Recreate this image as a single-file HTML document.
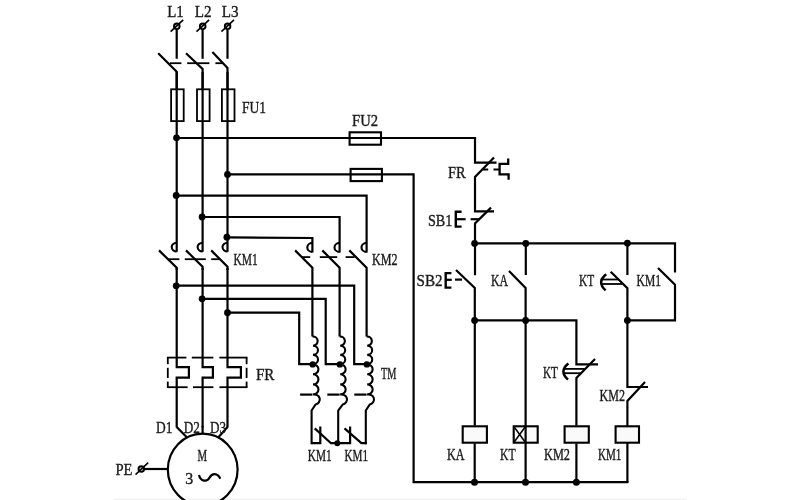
<!DOCTYPE html>
<html><head><meta charset="utf-8"><title>circuit</title>
<style>
html,body{margin:0;padding:0;background:#fff;}
body{width:800px;height:500px;overflow:hidden;position:relative;}
svg{position:absolute;left:0;top:0;display:block;filter:blur(0.45px);}
.band{position:absolute;left:114px;top:497.5px;width:573px;height:2.5px;background:linear-gradient(#fbfbfb,#f0f0f0);}
text{font-family:"Liberation Serif",serif;fill:#1c1c1c;stroke:#1c1c1c;stroke-width:0.4;}
</style></head><body>
<div class="band"></div>
<svg width="800" height="500" viewBox="0 0 800 500" fill="none" stroke="#000" stroke-linecap="butt" stroke-linejoin="miter">
<g>
<circle cx="176.79999999999998" cy="26.3" r="2.8" stroke-width="1.9" fill="#ddd"/>
<line x1="170.6" y1="31.6" x2="183.2" y2="19.8" stroke-width="1.6" />
<line x1="176.7" y1="29.3" x2="176.7" y2="58.8" stroke-width="2.2" />
<rect x="171.1" y="89.3" width="12.6" height="31.8" stroke-width="1.8" fill="none"/>
<circle cx="202.7" cy="26.3" r="2.8" stroke-width="1.9" fill="#ddd"/>
<line x1="196.5" y1="31.6" x2="209.1" y2="19.8" stroke-width="1.6" />
<line x1="202.6" y1="29.3" x2="202.6" y2="58.8" stroke-width="2.2" />
<rect x="197.0" y="89.3" width="12.6" height="31.8" stroke-width="1.8" fill="none"/>
<circle cx="227.6" cy="26.3" r="2.8" stroke-width="1.9" fill="#ddd"/>
<line x1="221.4" y1="31.6" x2="234.0" y2="19.8" stroke-width="1.6" />
<line x1="227.5" y1="29.3" x2="227.5" y2="58.8" stroke-width="2.2" />
<rect x="221.9" y="89.3" width="12.6" height="31.8" stroke-width="1.8" fill="none"/>
<polyline points="158.2,53.2 176.7,71.8 176.7,89" stroke-width="2.2" />
<polyline points="186,53.2 202.6,69 202.6,89" stroke-width="2.2" />
<polyline points="212.4,52 227.5,68 227.5,89" stroke-width="2.2" />
<line x1="169.8" y1="63.2" x2="181.4" y2="63.2" stroke-width="1.8" />
<line x1="187.2" y1="63.2" x2="209.4" y2="63.2" stroke-width="1.8" />
<line x1="215.4" y1="63.2" x2="222" y2="63.2" stroke-width="1.8" />
<line x1="176.7" y1="72" x2="176.7" y2="251.8" stroke-width="2.2" />
<line x1="202.6" y1="72" x2="202.6" y2="251.8" stroke-width="2.2" />
<line x1="227.5" y1="72" x2="227.5" y2="251.8" stroke-width="2.2" />
<polyline points="176.7,138 349,138" stroke-width="2.2" />
<rect x="349.6" y="132.3" width="31.4" height="12.4" stroke-width="2.1" fill="none"/>
<line x1="349" y1="138" x2="476.1" y2="138" stroke-width="2.2" />
<polyline points="475,138 475,162.7 496.5,162.7" stroke-width="2.2" />
<polyline points="227.5,174.4 413.6,174.4 413.6,482.2 628.5,482.2" stroke-width="2.2" />
<rect x="350.6" y="168.9" width="31.3" height="12.2" stroke-width="2.1" fill="none"/>
<circle cx="176.5" cy="137.8" r="3.4" fill="#000" stroke="none"/>
<circle cx="227.5" cy="174.4" r="3.4" fill="#000" stroke="none"/>
<circle cx="176.2" cy="195.4" r="3.4" fill="#000" stroke="none"/>
<circle cx="202.1" cy="217" r="3.4" fill="#000" stroke="none"/>
<circle cx="226.9" cy="237.2" r="3.4" fill="#000" stroke="none"/>
<polyline points="176.7,195.6 366.6,195.6 366.6,252.5" stroke-width="2.2" />
<polyline points="202.6,217 339.6,217 339.6,252.5" stroke-width="2.2" />
<polyline points="227.5,237.4 312.4,238 312.4,252.5" stroke-width="2.2" />
<path d="M176.7,242.7 A5,4.4 0 0 0 176.7,251.5" stroke-width="2.1" />
<line x1="176.7" y1="268" x2="176.7" y2="358" stroke-width="2.2" />
<path d="M202.6,242.7 A5,4.4 0 0 0 202.6,251.5" stroke-width="2.1" />
<line x1="202.6" y1="268" x2="202.6" y2="358" stroke-width="2.2" />
<path d="M227.5,242.7 A5,4.4 0 0 0 227.5,251.5" stroke-width="2.1" />
<line x1="227.5" y1="268" x2="227.5" y2="358" stroke-width="2.2" />
<polyline points="159,250.4 176.7,267.8 176.7,270" stroke-width="2.2" />
<polyline points="186,250.4 202.6,266.8 202.6,270" stroke-width="2.2" />
<polyline points="211.2,250.4 227.5,266.8 227.5,270" stroke-width="2.2" />
<line x1="168.6" y1="259.2" x2="179.4" y2="259.2" stroke-width="1.8" />
<line x1="184.8" y1="259.2" x2="205.8" y2="259.2" stroke-width="1.8" />
<line x1="211.2" y1="259.2" x2="219.6" y2="259.2" stroke-width="1.8" />
<path d="M312.4,242.9 A5,4.4 0 0 0 312.4,251.9" stroke-width="2.1" />
<polyline points="295.09999999999997,250.4 312.4,267.8 312.4,336.5" stroke-width="2.2" />
<path d="M339.6,242.9 A5,4.4 0 0 0 339.6,251.9" stroke-width="2.1" />
<polyline points="322.3,250.4 339.6,267.8 339.6,336.5" stroke-width="2.2" />
<path d="M366.6,242.9 A5,4.4 0 0 0 366.6,251.9" stroke-width="2.1" />
<polyline points="349.3,250.4 366.6,267.8 366.6,336.5" stroke-width="2.2" />
<line x1="301.8" y1="257.1" x2="310.2" y2="257.1" stroke-width="1.8" />
<line x1="319.8" y1="257.1" x2="337.2" y2="257.1" stroke-width="1.8" />
<line x1="345.6" y1="257.1" x2="354.6" y2="257.1" stroke-width="1.8" />
<circle cx="176.2" cy="285.8" r="3.4" fill="#000" stroke="none"/>
<circle cx="202.1" cy="298.8" r="3.4" fill="#000" stroke="none"/>
<circle cx="227.5" cy="312.7" r="3.4" fill="#000" stroke="none"/>
<polyline points="176.7,285.7 354.2,285.7 354.2,364.2 366.6,364.2" stroke-width="2.2" />
<polyline points="202.6,298.8 325.7,298.8 325.7,364.2 339.6,364.2" stroke-width="2.2" />
<polyline points="227.5,312.6 299.2,312.6 299.2,364.2 312.4,364.2" stroke-width="2.2" />
<path d="M312.4,336.5 A4.967999999999994,4.599999999999994 0 0 1 313.0,345.7 A4.967999999999994,4.599999999999994 0 0 1 313.0,354.9 A5.0220000000000065,4.650000000000006 0 0 1 313.0,364.2 A5.454000000000013,5.050000000000011 0 0 1 313.0,374.3 A5.453999999999982,5.049999999999983 0 0 1 313.0,384.4 A5.454000000000013,5.050000000000011 0 0 1 313.0,394.5 A5.345999999999988,4.949999999999989 0 0 1 315.59999999999997,404.4 L311.6,410.5 L311.6,444.3" stroke-width="2.1" />
<circle cx="312.7" cy="364.4" r="3.2" fill="#000" stroke="none"/>
<line x1="300.09999999999997" y1="394.6" x2="312.4" y2="394.6" stroke-width="2.2" />
<path d="M339.6,336.5 A4.967999999999994,4.599999999999994 0 0 1 340.20000000000005,345.7 A4.967999999999994,4.599999999999994 0 0 1 340.20000000000005,354.9 A5.0220000000000065,4.650000000000006 0 0 1 340.20000000000005,364.2 A5.454000000000013,5.050000000000011 0 0 1 340.20000000000005,374.3 A5.453999999999982,5.049999999999983 0 0 1 340.20000000000005,384.4 A5.454000000000013,5.050000000000011 0 0 1 340.20000000000005,394.5 A5.345999999999988,4.949999999999989 0 0 1 342.8,404.4 L338.2,410.5 L338.2,444.3" stroke-width="2.1" />
<circle cx="339.90000000000003" cy="364.4" r="3.2" fill="#000" stroke="none"/>
<line x1="327.3" y1="394.6" x2="339.6" y2="394.6" stroke-width="2.2" />
<path d="M366.6,336.5 A4.967999999999994,4.599999999999994 0 0 1 367.20000000000005,345.7 A4.967999999999994,4.599999999999994 0 0 1 367.20000000000005,354.9 A5.0220000000000065,4.650000000000006 0 0 1 367.20000000000005,364.2 A5.454000000000013,5.050000000000011 0 0 1 367.20000000000005,374.3 A5.453999999999982,5.049999999999983 0 0 1 367.20000000000005,384.4 A5.454000000000013,5.050000000000011 0 0 1 367.20000000000005,394.5 A5.345999999999988,4.949999999999989 0 0 1 369.8,404.4 L365.8,410.5 L365.8,444.3" stroke-width="2.1" />
<circle cx="366.90000000000003" cy="364.4" r="3.2" fill="#000" stroke="none"/>
<line x1="354.3" y1="394.6" x2="366.6" y2="394.6" stroke-width="2.2" />
<polyline points="311.6,443.2 320.3,443.2 320.3,426.6" stroke-width="2.2" />
<polyline points="314.7,428.4 331,443.2 337.2,443.2" stroke-width="2.2" />
<polyline points="337.2,443.2 350.1,443.2 350.1,426.6" stroke-width="2.2" />
<polyline points="344.5,428.4 361.4,443.2 366.8,443.2" stroke-width="2.2" />
<circle cx="337.3" cy="443.2" r="3.0" fill="#000" stroke="none"/>
<line x1="166.9" y1="357.6" x2="186.4" y2="357.6" stroke-width="1.8" />
<line x1="191.8" y1="357.6" x2="213.4" y2="357.6" stroke-width="1.8" />
<line x1="219.4" y1="357.6" x2="247.5" y2="357.6" stroke-width="1.8" />
<line x1="166.9" y1="387.2" x2="187.6" y2="387.2" stroke-width="1.8" />
<line x1="193" y1="387.2" x2="213.4" y2="387.2" stroke-width="1.8" />
<line x1="219.4" y1="387.2" x2="247.5" y2="387.2" stroke-width="1.8" />
<line x1="167.8" y1="357.6" x2="167.8" y2="364.2" stroke-width="1.8" />
<line x1="167.8" y1="367.8" x2="167.8" y2="378" stroke-width="1.8" />
<line x1="167.8" y1="381.6" x2="167.8" y2="387.2" stroke-width="1.8" />
<line x1="246.6" y1="357.6" x2="246.6" y2="364.2" stroke-width="1.8" />
<line x1="246.6" y1="367.8" x2="246.6" y2="378" stroke-width="1.8" />
<line x1="246.6" y1="381.6" x2="246.6" y2="387.2" stroke-width="1.8" />
<polyline points="176.7,357 176.7,367.2 188.89999999999998,367.2 188.89999999999998,377.6 176.7,377.6 176.7,427.4" stroke-width="2.2" />
<polyline points="202.6,357 202.6,367.2 212.9,367.2 212.9,377.6 202.6,377.6 202.6,427.4" stroke-width="2.2" />
<polyline points="227.5,357 227.5,367.2 240.9,367.2 240.9,377.6 227.5,377.6 227.5,427.4" stroke-width="2.2" />
<polyline points="176.7,427 187,437.6" stroke-width="2.2" />
<polyline points="227.5,427 218,437.8" stroke-width="2.2" />
<line x1="202.6" y1="426" x2="202.6" y2="434" stroke-width="2.2" />
<ellipse cx="202.7" cy="469.6" rx="34.9" ry="36" stroke-width="2.2" fill="none"/>
<line x1="144.2" y1="469" x2="167.8" y2="469" stroke-width="2.2" />
<circle cx="141.3" cy="469" r="2.8" stroke-width="1.9" fill="#ddd"/>
<line x1="135.5" y1="474.6" x2="148.2" y2="462.6" stroke-width="1.5" />
<path d="M199,475 C200.5,481.5 207,482.5 209.6,477.5 C212,473 217.5,472.5 220.3,478.8" stroke-width="2.2" />
<polyline points="494,157.6 475,177 475,211.4 494,211.4" stroke-width="2.2" />
<line x1="483" y1="169.5" x2="488.2" y2="169.5" stroke-width="2" />
<line x1="493.5" y1="169.5" x2="500" y2="169.5" stroke-width="2" />
<polyline points="508.2,158.4 508.2,163.8 499.6,163.8 499.6,174.4 508.6,174.4 508.6,179.8" stroke-width="2.3" />
<polyline points="491,207.6 475,223.4 475,275.2" stroke-width="2.2" />
<polyline points="461.6,211.7 455.8,211.7 455.8,226.6 461.6,226.6" stroke-width="2.4" />
<line x1="455.8" y1="219.2" x2="465.6" y2="219.2" stroke-width="2.2" />
<line x1="470.6" y1="219.2" x2="479" y2="219.2" stroke-width="2.2" />
<circle cx="474.6" cy="243.4" r="3.4" fill="#000" stroke="none"/>
<circle cx="525.8" cy="243.4" r="3.4" fill="#000" stroke="none"/>
<circle cx="627.4" cy="243.2" r="3.4" fill="#000" stroke="none"/>
<polyline points="474.6,243.4 675,243.4 675,272.6" stroke-width="2.2" />
<polyline points="456,270 474.8,288 474.8,425.6" stroke-width="2.2" />
<polyline points="451.4,273.1 445.7,273.1 445.7,287.6 451.4,287.6" stroke-width="2.4" />
<line x1="445.7" y1="279.8" x2="451.8" y2="279.8" stroke-width="2.2" />
<line x1="455" y1="279.6" x2="462" y2="279.6" stroke-width="2.2" />
<line x1="525.8" y1="243.4" x2="525.8" y2="275" stroke-width="2.2" />
<polyline points="509,271 525.6,288 525.6,482.2" stroke-width="2.2" />
<circle cx="474.6" cy="320.4" r="3.4" fill="#000" stroke="none"/>
<circle cx="525.6" cy="320.4" r="3.4" fill="#000" stroke="none"/>
<polyline points="474.6,320.4 576.4,320.4 576.4,364.4 598,364.4" stroke-width="2.2" />
<polyline points="595,359 576.4,378 576.4,425.6" stroke-width="2.2" />
<path d="M568.4,363.6 Q558.6,371.4 568,379.6" stroke-width="2.5" />
<line x1="563" y1="368.9" x2="584.8" y2="368.9" stroke-width="1.8" />
<line x1="563" y1="373.2" x2="581.3" y2="373.2" stroke-width="1.8" />
<line x1="627.4" y1="243.2" x2="627.4" y2="275" stroke-width="2.2" />
<polyline points="610.7,271.8 627.4,288.3 627.4,387 648,387" stroke-width="2.2" />
<path d="M606.2,274.2 Q596.4,282 605.6,290.4" stroke-width="2.5" />
<line x1="600.6" y1="279.5" x2="618.2" y2="279.5" stroke-width="1.8" />
<line x1="600.6" y1="284" x2="622" y2="284" stroke-width="1.8" />
<polyline points="658,268 675,284.6 675,320.4 627.4,320.4" stroke-width="2.2" />
<circle cx="627.4" cy="320.4" r="3.4" fill="#000" stroke="none"/>
<polyline points="645,382 627.4,401 627.4,482.2" stroke-width="2.2" />
<rect x="462.7" y="426.3" width="24.2" height="16.4" stroke-width="2.1" fill="#fafafa"/>
<rect x="513.7" y="426.3" width="24" height="16.4" stroke-width="2.1" fill="#fafafa"/>
<line x1="525.6" y1="425.6" x2="525.6" y2="443.4" stroke-width="2.2" />
<line x1="513.7" y1="426.3" x2="525.6" y2="442.7" stroke-width="1.5" />
<line x1="513.7" y1="442.7" x2="525.6" y2="426.3" stroke-width="1.5" />
<rect x="564.6" y="426.3" width="24.2" height="16.4" stroke-width="2.1" fill="#fafafa"/>
<rect x="615.6" y="426.3" width="23.4" height="16.4" stroke-width="2.1" fill="#fafafa"/>
<line x1="576.4" y1="443.4" x2="576.4" y2="482.2" stroke-width="2.2" />
<line x1="474.7" y1="443.4" x2="474.7" y2="482.2" stroke-width="2.2" />
<circle cx="474.5" cy="482.2" r="3.5" fill="#000" stroke="none"/>
<circle cx="525.5" cy="482.2" r="3.5" fill="#000" stroke="none"/>
<circle cx="576.4" cy="482.2" r="3.5" fill="#000" stroke="none"/>
</g>
<g style="filter:grayscale(1)">
<text x="167.2" y="17.3" font-size="17.3" textLength="16.6" lengthAdjust="spacingAndGlyphs">L1</text>
<text x="194.7" y="17.3" font-size="17.3" textLength="16.8" lengthAdjust="spacingAndGlyphs">L2</text>
<text x="221.7" y="17.3" font-size="17.3" textLength="16.8" lengthAdjust="spacingAndGlyphs">L3</text>
<text x="242" y="113.4" font-size="17.3" textLength="24" lengthAdjust="spacingAndGlyphs">FU1</text>
<text x="352" y="126" font-size="17.3" textLength="26" lengthAdjust="spacingAndGlyphs">FU2</text>
<text x="233.6" y="265.2" font-size="17.3" textLength="24.2" lengthAdjust="spacingAndGlyphs">KM1</text>
<text x="372" y="265" font-size="17.3" textLength="25.6" lengthAdjust="spacingAndGlyphs">KM2</text>
<text x="256" y="380" font-size="17.3" textLength="18.4" lengthAdjust="spacingAndGlyphs">FR</text>
<text x="381" y="379.4" font-size="17.3" textLength="15.4" lengthAdjust="spacingAndGlyphs">TM</text>
<text x="156" y="433.1" font-size="17.3" textLength="16.4" lengthAdjust="spacingAndGlyphs">D1</text>
<text x="183.8" y="433.1" font-size="17.3" textLength="16.2" lengthAdjust="spacingAndGlyphs">D2</text>
<text x="210" y="433.1" font-size="17.3" textLength="16" lengthAdjust="spacingAndGlyphs">D3</text>
<text x="307.8" y="461" font-size="17.3" textLength="23.8" lengthAdjust="spacingAndGlyphs">KM1</text>
<text x="344.5" y="461" font-size="17.3" textLength="23.6" lengthAdjust="spacingAndGlyphs">KM1</text>
<text x="115.4" y="474.6" font-size="17.3" textLength="17" lengthAdjust="spacingAndGlyphs">PE</text>
<text x="197.4" y="461" font-size="17.3" textLength="9.6" lengthAdjust="spacingAndGlyphs">M</text>
<text x="185.2" y="484" font-size="16.8" textLength="8" lengthAdjust="spacingAndGlyphs">3</text>
<text x="448" y="178" font-size="17.3" textLength="17.6" lengthAdjust="spacingAndGlyphs">FR</text>
<text x="428" y="225.6" font-size="17.3" textLength="24.4" lengthAdjust="spacingAndGlyphs">SB1</text>
<text x="416.6" y="285.6" font-size="17.3" textLength="26" lengthAdjust="spacingAndGlyphs">SB2</text>
<text x="491" y="285.6" font-size="17.3" textLength="17" lengthAdjust="spacingAndGlyphs">KA</text>
<text x="579" y="285.6" font-size="17.3" textLength="15.2" lengthAdjust="spacingAndGlyphs">KT</text>
<text x="636.6" y="285.6" font-size="17.3" textLength="24.4" lengthAdjust="spacingAndGlyphs">KM1</text>
<text x="543" y="378.4" font-size="17.3" textLength="15" lengthAdjust="spacingAndGlyphs">KT</text>
<text x="599.6" y="401" font-size="17.3" textLength="25.4" lengthAdjust="spacingAndGlyphs">KM2</text>
<text x="447" y="459.6" font-size="17.3" textLength="17.4" lengthAdjust="spacingAndGlyphs">KA</text>
<text x="500" y="459.6" font-size="17.3" textLength="15.6" lengthAdjust="spacingAndGlyphs">KT</text>
<text x="544" y="459.8" font-size="17.3" textLength="26" lengthAdjust="spacingAndGlyphs">KM2</text>
<text x="598" y="459.8" font-size="17.3" textLength="23.4" lengthAdjust="spacingAndGlyphs">KM1</text>
</g>
</svg>
</body></html>
